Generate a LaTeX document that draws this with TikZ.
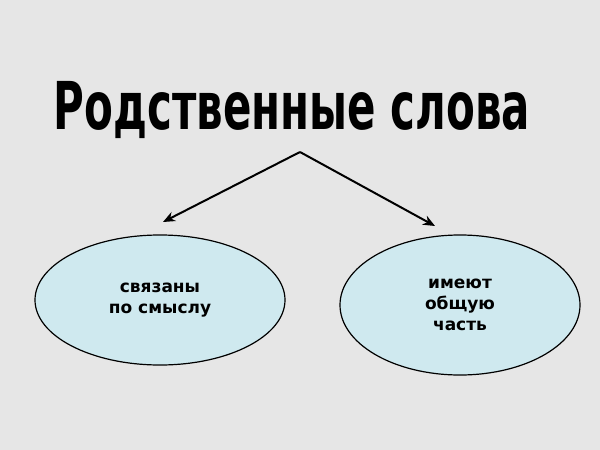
\documentclass[tikz,border=0pt]{standalone}
\usepackage{fontspec}
\setmainfont{DejaVu Sans}
\usetikzlibrary{shapes.geometric,arrows.meta}
\definecolor{bg}{HTML}{E6E6E6}
\definecolor{ell}{HTML}{CFE9EF}
\tikzset{bubble/.style={ellipse,draw=black,line width=1.2pt,fill=ell,align=center,font=\fontsize{17}{21}\selectfont\bfseries},
arr/.style={-{Stealth[length=12pt,width=10pt]},line width=2pt},
titlestyle/.style={font=\fontsize{60}{60}\selectfont\bfseries,xscale=0.7,yscale=1.1,inner sep=0}}
\begin{document}
\begin{tikzpicture}[x=1pt,y=-1pt]
\fill[bg] (0,0) rectangle (600,450);
\useasboundingbox (0,0) rectangle (600,450);
\node[titlestyle] (t) at (292,110) {Родственные слова};
\coordinate (top) at (300,152);
\node[bubble,minimum width=250,minimum height=130] (l) at (160,300) {связаны\\по смыслу};
\node[bubble,minimum width=240,minimum height=140] (r) at (460,305) {имеют\\общую\\часть};
\draw[arr] (top) -- (163,222);
\draw[arr] (top) -- (435,226);
\end{tikzpicture}
\end{document}
